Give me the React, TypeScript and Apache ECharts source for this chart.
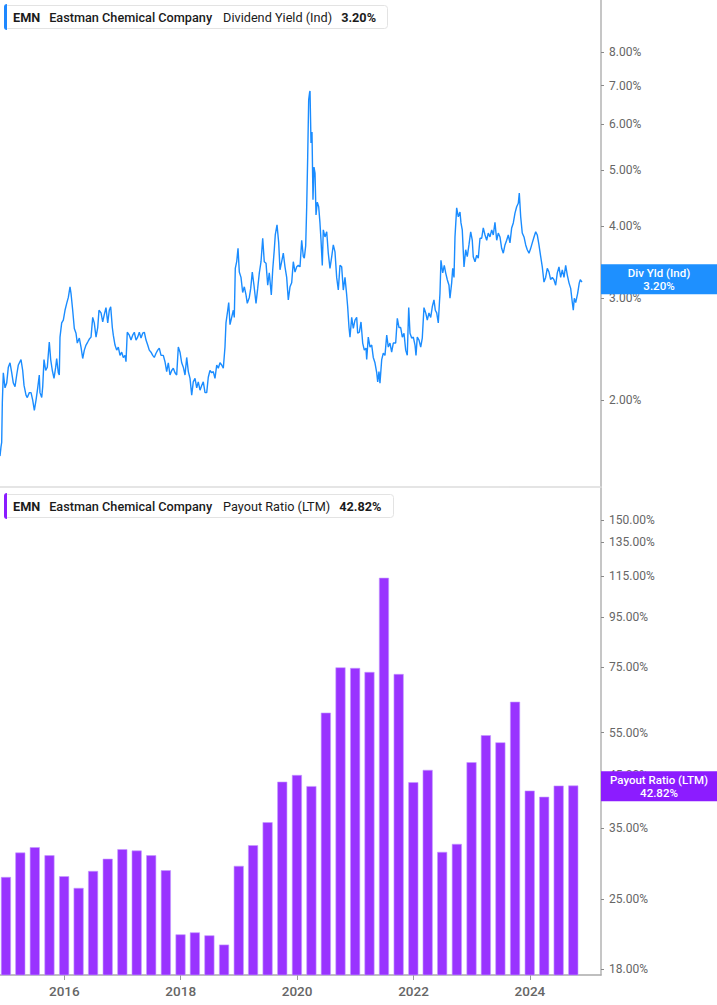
import React, { useEffect, useRef } from "react";
import * as echarts from "echarts";

// ---- Data ----
const ticker = "EMN";
const company = "Eastman Chemical Company";
const yieldLabel = "Dividend Yield (Ind)";
const yieldShort = "Div Yld (Ind)";
const payoutLabel = "Payout Ratio (LTM)";
const lastYield = 3.2;
const lastPayout = 42.82;

// [decimal year, dividend yield %]
const dividendYield: [number, number][] = [
  [2014.895, 1.6], [2014.912, 1.66], [2014.924, 1.69], [2014.935, 1.98], [2014.952, 2.23], [2014.981, 2.1],
  [2015.01, 2.14], [2015.038, 2.28], [2015.067, 2.32], [2015.096, 2.23], [2015.124, 2.14], [2015.153, 2.11],
  [2015.182, 2.21], [2015.21, 2.3], [2015.256, 2.35], [2015.285, 2.25], [2015.308, 2.12], [2015.342, 2.04],
  [2015.364, 2.02], [2015.399, 2.06], [2015.428, 2.06], [2015.457, 2.0], [2015.485, 1.92], [2015.514, 2.0],
  [2015.543, 2.1], [2015.57, 2.21], [2015.582, 2.06], [2015.612, 2.02], [2015.629, 2.11], [2015.651, 2.35],
  [2015.68, 2.25], [2015.708, 2.28], [2015.742, 2.52], [2015.766, 2.35], [2015.794, 2.25], [2015.823, 2.18],
  [2015.852, 2.28], [2015.869, 2.36], [2015.897, 2.23], [2015.914, 2.21], [2015.926, 2.57], [2015.955, 2.72],
  [2015.983, 2.75], [2016.012, 2.86], [2016.041, 2.94], [2016.069, 3.01], [2016.098, 3.14], [2016.115, 3.06],
  [2016.144, 2.86], [2016.172, 2.66], [2016.201, 2.61], [2016.223, 2.51], [2016.258, 2.56], [2016.287, 2.47],
  [2016.316, 2.36], [2016.344, 2.44], [2016.373, 2.49], [2016.402, 2.52], [2016.43, 2.55], [2016.459, 2.57],
  [2016.488, 2.78], [2016.515, 2.72], [2016.545, 2.57], [2016.574, 2.67], [2016.596, 2.86], [2016.631, 2.83],
  [2016.66, 2.73], [2016.687, 2.81], [2016.716, 2.89], [2016.746, 2.72], [2016.773, 2.86], [2016.797, 2.9],
  [2016.825, 2.67], [2016.842, 2.59], [2016.871, 2.49], [2016.9, 2.44], [2016.928, 2.47], [2016.957, 2.39],
  [2016.986, 2.42], [2017.014, 2.37], [2017.043, 2.39], [2017.06, 2.33], [2017.082, 2.62], [2017.117, 2.59],
  [2017.146, 2.54], [2017.175, 2.59], [2017.203, 2.62], [2017.232, 2.54], [2017.261, 2.57], [2017.289, 2.62],
  [2017.318, 2.56], [2017.347, 2.61], [2017.375, 2.62], [2017.404, 2.54], [2017.433, 2.49], [2017.46, 2.44],
  [2017.49, 2.42], [2017.519, 2.39], [2017.546, 2.37], [2017.576, 2.41], [2017.605, 2.44], [2017.632, 2.46],
  [2017.662, 2.39], [2017.701, 2.39], [2017.73, 2.33], [2017.759, 2.24], [2017.787, 2.32], [2017.816, 2.21],
  [2017.845, 2.25], [2017.873, 2.27], [2017.902, 2.23], [2017.931, 2.21], [2017.959, 2.47], [2017.988, 2.42],
  [2018.017, 2.32], [2018.045, 2.28], [2018.074, 2.21], [2018.103, 2.37], [2018.131, 2.24], [2018.16, 2.18],
  [2018.189, 2.04], [2018.216, 2.15], [2018.246, 2.18], [2018.275, 2.1], [2018.302, 2.15], [2018.332, 2.08],
  [2018.361, 2.12], [2018.388, 2.15], [2018.418, 2.06], [2018.447, 2.06], [2018.474, 2.19], [2018.503, 2.25],
  [2018.533, 2.23], [2018.56, 2.24], [2018.589, 2.18], [2018.619, 2.3], [2018.646, 2.27], [2018.675, 2.32],
  [2018.704, 2.3], [2018.732, 2.27], [2018.761, 2.47], [2018.778, 2.72], [2018.808, 2.86], [2018.825, 2.95],
  [2018.847, 2.7], [2018.876, 2.78], [2018.904, 2.86], [2018.921, 2.78], [2018.938, 3.38], [2018.962, 3.47],
  [2018.985, 3.66], [2019.007, 3.33], [2019.036, 3.26], [2019.065, 3.07], [2019.093, 3.14], [2019.122, 3.04],
  [2019.144, 2.94], [2019.179, 3.01], [2019.203, 3.12], [2019.23, 3.33], [2019.259, 3.16], [2019.294, 2.94],
  [2019.323, 3.12], [2019.351, 3.32], [2019.38, 3.47], [2019.409, 3.81], [2019.436, 3.47], [2019.466, 3.45],
  [2019.495, 3.16], [2019.522, 3.32], [2019.557, 3.04], [2019.581, 3.36], [2019.608, 3.64], [2019.625, 3.86],
  [2019.655, 4.02], [2019.684, 3.74], [2019.706, 3.36], [2019.735, 3.47], [2019.763, 3.59], [2019.792, 3.4],
  [2019.821, 3.26], [2019.849, 2.98], [2019.878, 3.14], [2019.907, 3.19], [2019.935, 3.47], [2019.964, 3.33],
  [2019.993, 3.4], [2020.021, 3.42], [2020.05, 3.4], [2020.079, 3.78], [2020.107, 3.54], [2020.124, 3.52],
  [2020.148, 3.7], [2020.165, 4.32], [2020.182, 5.26], [2020.199, 6.61], [2020.216, 6.82], [2020.222, 6.85],
  [2020.239, 5.57], [2020.256, 5.82], [2020.273, 4.44], [2020.29, 5.06], [2020.308, 4.94], [2020.325, 4.18],
  [2020.347, 4.4], [2020.371, 4.32], [2020.393, 4.05], [2020.411, 3.78], [2020.433, 3.42], [2020.45, 3.94],
  [2020.479, 3.83], [2020.509, 3.91], [2020.536, 3.59], [2020.565, 3.38], [2020.595, 3.54], [2020.622, 3.71],
  [2020.651, 3.61], [2020.68, 3.26], [2020.708, 3.1], [2020.737, 3.42], [2020.766, 3.4], [2020.794, 3.1],
  [2020.823, 3.26], [2020.852, 3.04], [2020.869, 2.9], [2020.892, 2.67], [2020.909, 2.57], [2020.938, 2.78],
  [2020.966, 2.66], [2020.995, 2.75], [2021.024, 2.78], [2021.041, 2.61], [2021.069, 2.62], [2021.098, 2.73],
  [2021.127, 2.51], [2021.155, 2.44], [2021.184, 2.46], [2021.196, 2.35], [2021.223, 2.57], [2021.253, 2.47],
  [2021.282, 2.49], [2021.309, 2.37], [2021.338, 2.32], [2021.368, 2.23], [2021.385, 2.15], [2021.407, 2.24],
  [2021.424, 2.14], [2021.454, 2.35], [2021.481, 2.41], [2021.51, 2.39], [2021.54, 2.59], [2021.567, 2.47],
  [2021.596, 2.51], [2021.625, 2.42], [2021.653, 2.51], [2021.694, 2.51], [2021.722, 2.77], [2021.751, 2.67],
  [2021.78, 2.67], [2021.808, 2.57], [2021.837, 2.61], [2021.866, 2.44], [2021.893, 2.39], [2021.918, 2.89],
  [2021.94, 2.61], [2021.969, 2.56], [2021.997, 2.57], [2022.026, 2.49], [2022.043, 2.39], [2022.065, 2.57],
  [2022.095, 2.54], [2022.124, 2.47], [2022.151, 2.56], [2022.18, 2.89], [2022.21, 2.83], [2022.237, 2.75],
  [2022.266, 2.83], [2022.296, 2.78], [2022.323, 2.9], [2022.352, 2.98], [2022.375, 2.86], [2022.399, 2.83],
  [2022.426, 2.72], [2022.455, 3.06], [2022.472, 3.49], [2022.502, 3.32], [2022.529, 3.42], [2022.553, 3.32],
  [2022.581, 3.23], [2022.61, 3.16], [2022.627, 3.0], [2022.656, 3.19], [2022.674, 3.38], [2022.696, 3.26],
  [2022.713, 3.83], [2022.742, 4.3], [2022.77, 4.15], [2022.799, 4.23], [2022.816, 4.05], [2022.838, 3.94],
  [2022.868, 3.4], [2022.897, 3.64], [2022.924, 3.54], [2022.953, 3.71], [2022.983, 3.91], [2023.01, 3.78],
  [2023.027, 3.54], [2023.057, 3.47], [2023.086, 3.56], [2023.113, 3.52], [2023.143, 3.81], [2023.172, 3.81],
  [2023.199, 3.97], [2023.229, 3.86], [2023.258, 3.78], [2023.285, 3.89], [2023.314, 3.83], [2023.344, 3.94],
  [2023.371, 3.86], [2023.4, 4.06], [2023.43, 3.78], [2023.457, 3.89], [2023.486, 3.83], [2023.515, 3.66],
  [2023.543, 3.59], [2023.572, 3.71], [2023.601, 3.78], [2023.629, 3.86], [2023.658, 3.74], [2023.687, 3.97],
  [2023.715, 4.05], [2023.744, 4.21], [2023.773, 4.32], [2023.801, 4.38], [2023.818, 4.56], [2023.842, 4.15],
  [2023.869, 3.89], [2023.899, 3.83], [2023.928, 3.71], [2023.955, 3.64], [2023.985, 3.59], [2024.014, 3.66],
  [2024.041, 3.74], [2024.071, 3.83], [2024.1, 3.91], [2024.127, 3.86], [2024.156, 3.71], [2024.186, 3.54],
  [2024.213, 3.4], [2024.242, 3.2], [2024.271, 3.26], [2024.299, 3.38], [2024.328, 3.33], [2024.357, 3.23],
  [2024.385, 3.26], [2024.414, 3.23], [2024.443, 3.16], [2024.471, 3.32], [2024.5, 3.4], [2024.529, 3.26],
  [2024.557, 3.36], [2024.586, 3.26], [2024.615, 3.42], [2024.643, 3.29], [2024.672, 3.19], [2024.701, 3.12],
  [2024.729, 2.95], [2024.746, 2.86], [2024.763, 3.0], [2024.787, 2.95], [2024.821, 3.06], [2024.849, 3.19],
  [2024.866, 3.23], [2024.895, 3.2],
];

const payoutDates = [
  "2014-12-31", "2015-03-31", "2015-06-30", "2015-09-30", "2015-12-31", "2016-03-31", "2016-06-30", "2016-09-30",
  "2016-12-31", "2017-03-31", "2017-06-30", "2017-09-30", "2017-12-31", "2018-03-31", "2018-06-30", "2018-09-30",
  "2018-12-31", "2019-03-31", "2019-06-30", "2019-09-30", "2019-12-31", "2020-03-31", "2020-06-30", "2020-09-30",
  "2020-12-31", "2021-03-31", "2021-06-30", "2021-09-30", "2021-12-31", "2022-03-31", "2022-06-30", "2022-09-30",
  "2022-12-31", "2023-03-31", "2023-06-30", "2023-09-30", "2023-12-31", "2024-03-31", "2024-06-30", "2024-09-30",
];
const payoutValues = [
  27.8, 31.2, 32.0, 30.8, 27.9, 26.4, 28.6, 30.3,
  31.7, 31.5, 30.8, 28.7, 21.2, 21.4, 21.1, 20.2,
  29.3, 32.3, 36.0, 43.6, 45.0, 42.7, 60.4, 74.8,
  74.6, 73.2, 114.2, 72.5, 43.5, 46.1, 31.3, 32.5,
  47.8, 54.3, 52.5, 63.6, 41.8, 40.6, 42.8, 42.82,
];

const yieldTicks = [2, 3, 4, 5, 6, 7, 8];
const payoutTicks = [18, 25, 35, 45, 55, 75, 95, 115, 135, 150];
const yearTicks = [2016, 2018, 2020, 2022, 2024];

const yieldRange = [1.4146, 9.842];
const payoutRange = [17.5, 174.5];
const timeRange = [2014.895, 2025.222];

// ---- helpers ----
const dateToYear = (d: string) => {
  const ms = Date.parse(d + "T00:00:00Z");
  const y = new Date(ms).getUTCFullYear();
  const a = Date.UTC(y, 0, 1);
  const b = Date.UTC(y + 1, 0, 1);
  return y + (ms - a) / (b - a);
};
const lg = (v: number) => Math.log10(v);
const FONT = "Roboto";

const legendRich = {
  t: { fontFamily: FONT, fontSize: 12.7, fontWeight: "bold", color: "#1b1b1b", lineHeight: 16, padding: [0, 9, 0, 0] },
  c: { fontFamily: FONT, fontSize: 12.7, fontWeight: 500, color: "#1b1b1b", lineHeight: 16, padding: [0, 11, 0, 0] },
  m: { fontFamily: FONT, fontSize: 12.7, fontWeight: "normal", color: "#1b1b1b", lineHeight: 16, padding: [0, 9, 0, 0] },
  v: { fontFamily: FONT, fontSize: 12.7, fontWeight: "bold", color: "#1b1b1b", lineHeight: 16 },
};

const legendTitle = (top: number, metric: string, value: string) => ({
  left: 4,
  top,
  padding: [5, 12, 5, 9],
  backgroundColor: "#ffffff",
  borderColor: "#e3e3e3",
  borderWidth: 1,
  borderRadius: 3,
  text: `{t|${ticker}}{c|${company}}{m|${metric}}{v|${value}}`,
  textStyle: { rich: legendRich },
});

const valueBox = (color: string, name: string, value: number) => ({
  silent: true,
  symbol: ["none", "none"],
  lineStyle: { width: 0, color: "rgba(0,0,0,0)", opacity: 1 },
  label: {
    show: true,
    position: "end",
    distance: 0,
    width: 116,
    padding: [2, 0, 2, 0],
    backgroundColor: color,
    opacity: 1,
    formatter: `{a|${name}}\n{a|${value.toFixed(2)}%}`,
    rich: {
      a: { color: "#ffffff", fontFamily: FONT, fontSize: 11.5, fontWeight: 500, lineHeight: 13, align: "center" },
    },
  },
  emphasis: { disabled: true },
});

export default function App() {
  const ref = useRef<HTMLDivElement>(null);

  useEffect(() => {
    document.body.style.margin = "0";
    if (!ref.current) return;
    const chart = echarts.init(ref.current, null, { renderer: "svg" });

    const yAxisCommon = (ticks: number[], range: number[], gridIndex: number) => ({
      type: "value",
      gridIndex,
      position: "right",
      min: lg(range[0]),
      max: lg(range[1]),
      axisLine: { show: true, onZero: false, lineStyle: { color: "#b3b3b3", width: 1.5 } },
      axisTick: { show: true, length: 3, customValues: ticks.map(lg), lineStyle: { color: "#8a8a8a" } },
      axisLabel: {
        customValues: ticks.map(lg),
        formatter: (v: number) => Math.pow(10, v).toFixed(2) + "%",
        color: "#666666",
        fontFamily: FONT,
        fontSize: 12,
        margin: 8,
      },
      splitLine: { show: false },
    });

    chart.setOption({
      animation: false,
      backgroundColor: "#ffffff",
      title: [
        legendTitle(4, yieldLabel, lastYield.toFixed(2) + "%"),
        legendTitle(493, payoutLabel, lastPayout.toFixed(2) + "%"),
      ],
      graphic: [
        { type: "rect", left: 4, top: 4, z: 100, shape: { width: 3, height: 26, r: [3, 0, 0, 3] }, style: { fill: "#1e88ff" } },
        { type: "rect", left: 4, top: 493, z: 100, shape: { width: 3, height: 26, r: [3, 0, 0, 3] }, style: { fill: "#8a1cff" } },
      ],
      grid: [
        { left: 0, right: 116, top: 0, height: 487, outerBoundsMode: "none", containLabel: false },
        { left: 0, right: 116, top: 488, height: 487, outerBoundsMode: "none", containLabel: false },
      ],
      xAxis: [
        {
          type: "value",
          gridIndex: 0,
          min: timeRange[0],
          max: timeRange[1],
          axisLine: { show: true, onZero: false, lineStyle: { color: "#dcdcdc", width: 1.5 } },
          axisTick: { show: false },
          axisLabel: { show: false },
          splitLine: { show: false },
        },
        {
          type: "value",
          gridIndex: 1,
          min: timeRange[0],
          max: timeRange[1],
          axisLine: { show: true, onZero: false, lineStyle: { color: "#aaaaaa", width: 1.5 } },
          axisTick: { show: true, length: 5, customValues: yearTicks, lineStyle: { color: "#999999" } },
          axisLabel: {
            customValues: yearTicks,
            formatter: (v: number) => String(Math.round(v)),
            color: "#666666",
            fontFamily: FONT,
            fontSize: 13.5,
            fontWeight: 500,
            margin: 9,
          },
          splitLine: { show: false },
        },
      ],
      yAxis: [yAxisCommon(yieldTicks, yieldRange, 0), yAxisCommon(payoutTicks, payoutRange, 1)],
      series: [
        {
          type: "line",
          name: yieldLabel,
          xAxisIndex: 0,
          yAxisIndex: 0,
          showSymbol: false,
          symbol: "none",
          lineStyle: { color: "#1a8cff", width: 1.4 },
          data: dividendYield.map(([t, v]) => [t, lg(v)]),
          markLine: { ...valueBox("#1e90ff", yieldShort, lastYield), data: [{ yAxis: lg(lastYield) }] },
          z: 3,
        },
        {
          type: "bar",
          name: payoutLabel,
          xAxisIndex: 1,
          yAxisIndex: 1,
          barWidth: 10,
          clip: true,
          itemStyle: { color: "#9933ff", borderColor: "#c49bff", borderWidth: 0.6 },
          data: payoutDates.map((d, i) => [dateToYear(d), lg(payoutValues[i])]),
          markLine: { ...valueBox("#8c1cff", payoutLabel, lastPayout), data: [{ yAxis: lg(lastPayout) }] },
          z: 3,
        },
      ],
    });

    return () => chart.dispose();
  }, []);

  return <div ref={ref} style={{ position: "fixed", left: 0, top: 0, width: 717, height: 1005 }} />;
}
